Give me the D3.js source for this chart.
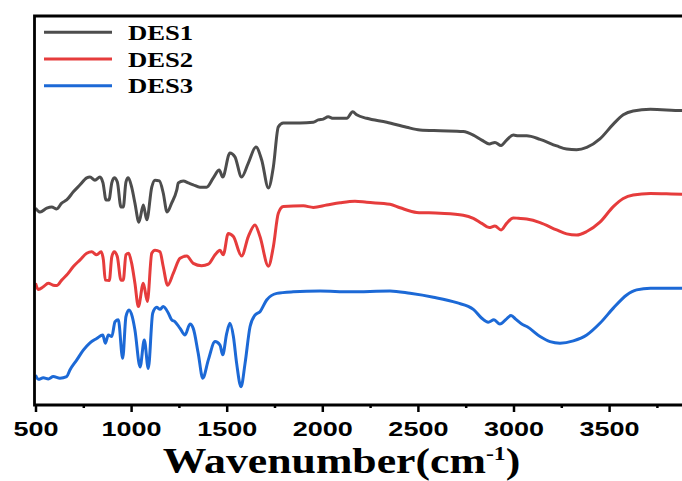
<!DOCTYPE html>
<meta charset="utf-8">
<style>
body { margin: 0; background: #fff; }
svg { display: block; }
.curve { fill: none; stroke-width: 3px; stroke-linejoin: round; }
</style>
<body>
<script src="https://d3js.org/d3.v7.min.js"></script>
<script>

// wavenumber (cm-1) and offset transmittance (a.u.)
let des1W = [500,524,559,585,611,637,663,698,733,768,785,811,837,853,869,884,899,912,928,947,959,973,985,1003,1020,1041,1064,1082,1108,1125,1148,1168,1188,1212,1239,1247,1273,1299,1325,1360,1395,1430,1461,1479,1517,1543,1578,1613,1653,1683,1718,1744,1770,1796,1883,1953,1979,2005,2031,2057,2128,2159,2180,2232,2337,2441,2511,2616,2737,2790,2834,2873,2903,2935,2964,2999,3025,3069,3139,3226,3278,3330,3383,3452,3522,3574,3626,3716,3883,4000];
let des1T = [50.6,49.6,50.6,50.9,50.4,51.9,52.7,54.8,56.6,58.4,58.6,57.8,58.6,57.1,52.7,52.7,57.1,58.4,57.3,50.9,50.9,57.3,58.4,56.0,51.9,47.0,51.4,47.6,56.0,57.8,57.6,54.5,49.6,51.9,55.3,57.1,57.6,57.1,56.6,56.0,56.0,58.4,60.4,58.6,64.8,63.8,58.6,62.2,66.3,63.0,55.8,61.2,71.5,72.5,72.5,72.7,73.3,73.5,74.1,73.7,73.7,75.4,74.6,73.7,72.7,71.4,70.7,70.5,70.3,69.4,68.1,67.1,67.5,66.7,68.1,69.4,69.2,69.2,68.3,66.6,65.8,65.6,66.2,68.4,72.2,74.6,75.6,76.0,75.7,75.7];

let des2W = [500,515,541,567,593,611,637,663,698,733,768,794,820,843,855,865,886,899,912,928,947,959,973,987,1003,1020,1038,1064,1085,1108,1125,1151,1168,1191,1221,1256,1291,1325,1369,1404,1439,1465,1482,1508,1535,1578,1613,1648,1674,1718,1744,1770,1796,1901,1953,2023,2093,2171,2232,2354,2407,2494,2616,2737,2790,2834,2873,2903,2935,2964,2999,3025,3069,3139,3226,3278,3330,3383,3452,3522,3574,3626,3716,3883,4000];
let des2T = [31.3,29.7,30.4,31.3,30.8,30.7,32.1,33.4,35.6,37.3,39.0,39.4,38.6,39.4,37.3,32.1,32.0,38.1,39.4,38.1,32.1,32.1,38.6,39.0,36.4,31.3,25.3,31.3,26.6,39.0,39.8,39.4,35.6,30.8,33.9,37.7,38.3,36.4,35.8,36.2,38.6,39.8,38.6,44.1,43.3,38.3,43.3,46.3,43.3,35.7,40.7,49.3,51.0,51.2,50.8,51.4,52.0,52.4,52.1,51.6,50.7,49.5,49.3,48.8,48.0,46.7,45.6,46.0,45.0,46.7,48.1,48.0,47.8,46.9,45.0,44.0,43.7,44.6,47.0,51.0,53.1,54.0,54.4,54.2,54.2];

let des3W = [500,515,541,567,593,628,663,680,716,750,785,820,852,865,881,899,916,933,956,973,989,1006,1020,1047,1069,1090,1113,1134,1151,1168,1195,1212,1230,1256,1282,1308,1325,1351,1375,1404,1439,1465,1479,1500,1517,1535,1552,1575,1596,1622,1648,1674,1709,1762,1848,1988,2145,2354,2459,2581,2703,2790,2834,2868,2898,2929,2961,2987,3013,3043,3072,3139,3191,3243,3313,3383,3452,3522,3592,3644,3716,3883,4000];
let des3T = [7.7,6.6,7.0,6.7,7.3,6.9,7.3,9.0,11.6,14.1,16.0,17.1,18.0,15.9,18.0,17.6,21.4,21.9,12.0,22.7,24.4,22.7,19.3,9.8,16.7,9.4,23.6,25.1,24.6,25.3,23.6,21.9,21.4,19.7,18.0,20.8,19.7,13.3,6.9,11.6,16.3,15.4,12.9,18.4,21.0,17.6,10.7,4.7,10.7,20.1,23.1,24.0,27.0,28.7,29.1,29.3,29.1,29.3,28.7,27.7,26.3,24.6,22.3,21.3,21.9,20.8,22.0,23.0,22.0,20.8,20.1,17.6,16.3,15.9,16.5,18.0,21.0,24.9,28.3,29.6,30.0,30.0,30.0];

let seriesNames = ["DES1", "DES2", "DES3"];
let seriesColors = ["#4d4d4d", "#e63c3c", "#1c69d6"];
let xTicks = [500, 1000, 1500, 2000, 2500, 3000, 3500];

let width = 682,
    height = 481,
    plotLeft = 35,
    plotTop = 16,
    plotBottom = 405;

let svg = d3.select("body").append("svg")
	.attr("width", width)
	.attr("height", height);

let x = d3.scaleLinear().domain([500, 4000]).range([35.5, 35.5 + 3500 * 0.1912]);
let y = d3.scaleLinear().domain([0, 100]).range([plotBottom, plotTop]);

svg.append("clipPath").attr("id", "plot")
	.append("rect").attr("x", plotLeft).attr("y", plotTop).attr("width", width - plotLeft).attr("height", plotBottom - plotTop);

let line = d3.line()
	.x(function(d) { return x(d[0]); })
	.y(function(d) { return y(d[1]); })
	.curve(d3.curveMonotoneX);

let series = [d3.zip(des1W, des1T), d3.zip(des2W, des2T), d3.zip(des3W, des3T)];

svg.append("g").attr("clip-path", "url(#plot)")
	.selectAll("path")
	.data(series)
	.enter().append("path")
	.attr("class", "curve")
	.attr("stroke", function(d, i) { return seriesColors[i]; })
	.attr("d", line);

/* ------- AXES -------*/
let minor = d3.range(750, 4000, 500);

svg.append("g")
	.attr("transform", "translate(0," + plotBottom + ")")
	.call(d3.axisBottom(x).tickValues(minor).tickSize(3).tickFormat(""))
	.call(function(g) { g.select(".domain").remove(); })
	.selectAll("line").attr("stroke-width", 2.5);

let xAxis = svg.append("g")
	.attr("transform", "translate(0," + plotBottom + ")")
	.call(d3.axisBottom(x).tickValues(xTicks).tickSize(7).tickPadding(10).tickFormat(d3.format("d")));
xAxis.select(".domain").remove();
xAxis.selectAll("line").attr("stroke-width", 2.5);
xAxis.selectAll("text")
	.attr("font-family", "'Liberation Sans', Arial, sans-serif")
	.attr("font-weight", "bold")
	.attr("font-size", 20)
	.attr("fill", "#000")
	.attr("transform", "scale(1.35,1)");

// frame: bottom, left, top
svg.append("path")
	.attr("d", "M" + width + "," + plotBottom + "H" + (plotLeft - 0.5) + "V" + plotTop + "H" + width)
	.attr("fill", "none")
	.attr("stroke", "#000")
	.attr("stroke-width", 2.8);

let title = svg.append("g")
	.attr("transform", "translate(341.5,473) scale(1.25,1)")
	.append("text")
	.attr("text-anchor", "middle")
	.attr("font-family", "'Liberation Serif', 'Times New Roman', serif")
	.attr("font-weight", "bold")
	.attr("font-size", 35);
title.append("tspan").text("Wavenumber(cm");
title.append("tspan").attr("font-size", 19).attr("dy", -13).text("-1");
title.append("tspan").attr("dy", 13).text(")");

/* ------- LEGEND -------*/
let legend = svg.append("g").selectAll("g")
	.data(seriesNames)
	.enter().append("g")
	.attr("transform", function(d, i) { return "translate(0," + (32.3 + i * 26.7) + ")"; });

legend.append("line")
	.attr("x1", 44).attr("x2", 112)
	.attr("stroke", function(d, i) { return seriesColors[i]; })
	.attr("stroke-width", 3);

legend.append("text")
	.attr("transform", "translate(128,7.5) scale(1.27,1)")
	.attr("font-family", "'Liberation Serif', 'Times New Roman', serif")
	.attr("font-weight", "bold")
	.attr("font-size", 21)
	.text(function(d) { return d; });

</script>
</body>
